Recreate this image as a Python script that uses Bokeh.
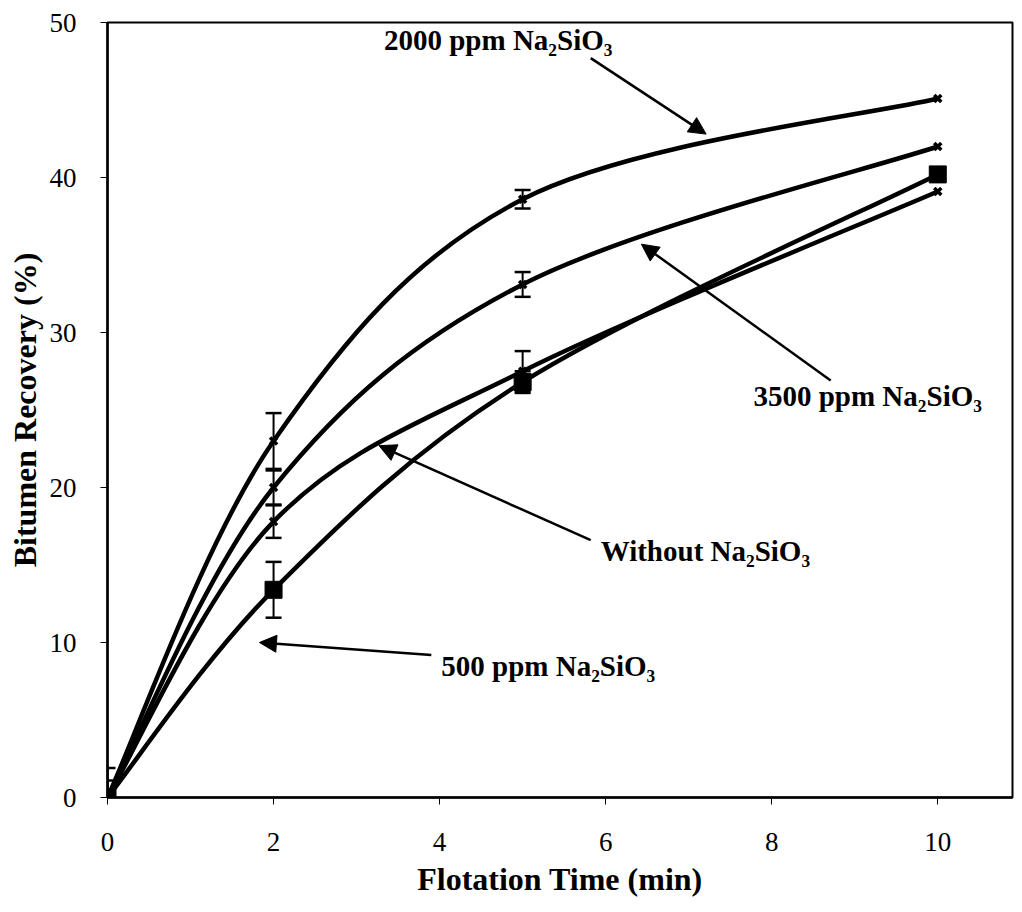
from bokeh.plotting import figure
from bokeh.models import Arrow, NormalHead, FixedTicker, Range1d, ColumnDataSource
from bokeh.core.properties import value
from bokeh.embed import file_html
from bokeh.resources import INLINE

# ---- data ----
time_min = [0, 2, 5, 10]
rec_2000 = [0.0, 23.0, 38.6, 45.1]
err_2000 = [1.9, 1.8, 0.6, 0.0]
rec_3500 = [0.0, 20.0, 33.1, 42.0]
err_3500 = [1.1, 1.1, 0.8, 0.0]
rec_without = [0.0, 17.8, 27.5, 39.1]
err_without = [0.0, 1.05, 1.3, 0.0]
rec_500 = [0.0, 13.4, 26.8, 40.2]
err_500 = [0.0, 1.8, 0.7, 0.0]

x_ticks = [0, 2, 4, 6, 8, 10]
y_ticks = [0, 10, 20, 30, 40, 50]

# annotations: label text, label anchor (left, middle), arrow tail, arrow head
ann_text = ["2000 ppm Na\u2082SiO\u2083", "3500 ppm Na\u2082SiO\u2083",
            "Without Na\u2082SiO\u2083", "500 ppm Na\u2082SiO\u2083"]
ann_x = [3.33, 7.78, 5.94, 4.02]
ann_y = [48.9, 25.9, 15.9, 8.5]
arr_x0 = [5.82, 8.71, 5.82, 3.90]
arr_y0 = [47.7, 26.9, 16.6, 9.2]
arr_x1 = [7.21, 6.43, 3.27, 1.83]
arr_y1 = [42.8, 35.7, 22.7, 10.0]

FONT = "Liberation Serif"

p = figure(width=1014, height=900, x_range=Range1d(0, 10.9), y_range=Range1d(0, 50),
           output_backend="svg", toolbar_location=None,
           min_border_left=107, min_border_right=2, min_border_top=22, min_border_bottom=103)
p.grid.visible = False
p.outline_line_color = "black"
p.outline_line_width = 2
p.background_fill_color = "white"
p.border_fill_color = "white"

for ax in (p.xaxis, p.yaxis):
    ax.axis_line_width = 2.5
    ax.axis_line_color = "black"
    ax.major_tick_out = 7
    ax.major_tick_in = 0
    ax.major_tick_line_width = 1
    ax.minor_tick_line_color = None
    ax.major_label_text_font = FONT
    ax.major_label_text_font_size = "27px"
    ax.major_label_text_color = "black"
    ax.axis_label_text_font = FONT
    ax.axis_label_text_font_size = "32px"
    ax.axis_label_text_font_style = "bold"
    ax.axis_label_text_color = "black"

p.xaxis.ticker = FixedTicker(ticks=x_ticks)
p.yaxis.ticker = FixedTicker(ticks=y_ticks)
p.xaxis.axis_label = "Flotation Time (min)"
p.yaxis.axis_label = "Bitumen Recovery (%)"
p.xaxis.major_label_standoff = 28
p.xaxis.axis_label_standoff = 7
p.yaxis.major_label_standoff = 24
p.yaxis.axis_label_standoff = 4


def smooth(xs, ys):
    """Cubic Bezier pieces through the points (spreadsheet-style smoothed line)."""
    n = len(xs)
    d = dict(x0=[], y0=[], x1=[], y1=[], cx0=[], cy0=[], cx1=[], cy1=[])
    for i in range(n - 1):
        ip = max(i - 1, 0)
        inx = min(i + 2, n - 1)
        d["x0"].append(xs[i]); d["y0"].append(ys[i])
        d["x1"].append(xs[i + 1]); d["y1"].append(ys[i + 1])
        d["cx0"].append(xs[i] + (xs[i + 1] - xs[ip]) / 6.0)
        d["cy0"].append(ys[i] + (ys[i + 1] - ys[ip]) / 6.0)
        d["cx1"].append(xs[i + 1] - (xs[inx] - xs[i]) / 6.0)
        d["cy1"].append(ys[i + 1] - (ys[inx] - ys[i]) / 6.0)
    return ColumnDataSource(d)


series = [(rec_2000, err_2000, "x"), (rec_3500, err_3500, "x"),
          (rec_without, err_without, "x"), (rec_500, err_500, "square")]

for rec, err, mk in series:
    p.bezier(x0="x0", y0="y0", x1="x1", y1="y1", cx0="cx0", cy0="cy0",
             cx1="cx1", cy1="cy1", source=smooth(time_min, rec),
             line_color="black", line_width=4.5)
    ex = [t for t, e in zip(time_min, err) if e > 0]
    lo = [r - e for r, e in zip(rec, err) if e > 0]
    hi = [r + e for r, e in zip(rec, err) if e > 0]
    p.segment(x0=ex, y0=lo, x1=ex, y1=hi, line_color="black", line_width=2)
    p.scatter(ex + ex, lo + hi, marker="dash", size=16, line_color="black", line_width=2.5)
    if mk == "square":
        p.scatter(time_min, rec, marker="square", size=17, color="black")
    else:
        p.scatter(time_min, rec, marker="x", size=10, line_color="black", line_width=3.5)

for i in range(len(ann_text)):
    p.add_layout(Arrow(end=NormalHead(size=17, fill_color="black", line_color="black"),
                       x_start=arr_x0[i], y_start=arr_y0[i], x_end=arr_x1[i], y_end=arr_y1[i],
                       line_color="black", line_width=2.5))

p.text(x=ann_x, y=ann_y, text=ann_text, text_font=value(FONT), text_font_style="bold",
       text_font_size="29px", text_baseline="middle", text_align="left", text_color="black")

open("out.html", "w").write(file_html(p, INLINE))
